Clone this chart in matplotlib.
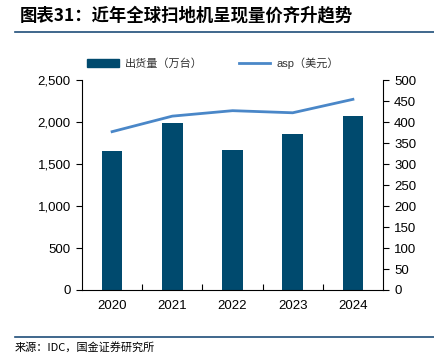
import numpy as np
import matplotlib.pyplot as plt
from matplotlib.lines import Line2D
from matplotlib.patches import Patch

plt.rcParams['font.family'] = ['Liberation Sans', 'Noto Sans CJK SC', 'DejaVu Sans']

# 数据
years = ['2020', '2021', '2022', '2023', '2024']
shipments = [1650, 1990, 1665, 1855, 2075]   # 出货量（万台）
asp = [377, 414, 427, 422, 454]              # asp（美元）

bar_color = '#004a6e'
line_color = '#4a87c8'

fig = plt.figure(figsize=(4.35, 3.55), dpi=100)
ax = fig.add_axes([0.1885, 0.1831, 0.692, 0.5915])

x = np.arange(len(years))
ax.bar(x, shipments, width=0.34, color=bar_color, zorder=2)
ax.set_xlim(-0.5, len(years) - 0.5)
ax.set_ylim(0, 2500)
ax.set_yticks(range(0, 2501, 500))
ax.set_yticklabels([f'{v:,}' for v in range(0, 2501, 500)])
ax.set_xticks(x)
ax.set_xticklabels(years)
ax.set_xticks(np.arange(0.5, len(years) - 1, 1), minor=True)
ax.tick_params(axis='x', which='major', length=0, pad=7, labelsize=9.5)
ax.tick_params(axis='x', which='minor', direction='in', length=4, width=0.8)
ax.tick_params(axis='y', length=4, width=0.8, labelsize=9.5, pad=4)
for s in ['top', 'right']:
    ax.spines[s].set_visible(False)
ax.spines['left'].set_linewidth(0.8)
ax.spines['bottom'].set_linewidth(0.8)

ax2 = ax.twinx()
ax2.plot(x, asp, color=line_color, linewidth=2)
ax2.set_ylim(0, 500)
ax2.set_yticks(range(0, 501, 50))
ax2.tick_params(axis='y', length=4, width=0.8, labelsize=9.5, pad=4)
for s in ['top', 'left', 'bottom']:
    ax2.spines[s].set_visible(False)
ax2.spines['right'].set_linewidth(0.8)

# 图例
handles = [Patch(color=bar_color), Line2D([0], [0], color=line_color, linewidth=2)]
labels = ['出货量（万台）', 'asp（美元）']
fig.legend(handles, labels, loc='center', bbox_to_anchor=(0.49, 0.823), ncol=2,
           frameon=False, fontsize=8, handlelength=2.8, columnspacing=3.2,
           handletextpad=0.6, labelcolor='#333333')

# 标题与来源
fig.text(0.046, 0.957, '图表31：近年全球扫地机呈现量价齐升趋势', fontsize=12.5,
         fontweight='bold', style='italic', va='center',
         family=['Noto Sans CJK SC', 'DejaVu Sans'])
fig.add_artist(Line2D([0.034, 1.0], [0.91, 0.91], color='#1f4e79', linewidth=1.2))
fig.add_artist(Line2D([0.034, 1.0], [0.05, 0.05], color='#1f4e79', linewidth=1.2))
fig.text(0.034, 0.022, '来源：IDC，国金证券研究所', fontsize=8, va='center',
         family=['Noto Sans CJK SC', 'DejaVu Sans'])

fig.savefig('out.png', dpi=100)
